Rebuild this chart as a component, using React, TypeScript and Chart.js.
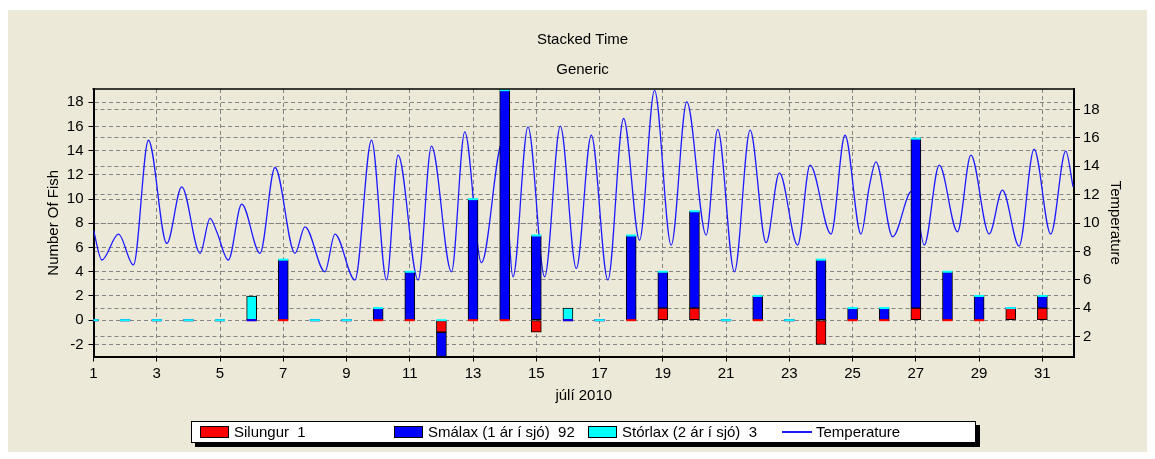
import React, { useEffect, useRef } from 'react';
import { Chart, registerables } from 'chart.js';

Chart.register(...registerables);

// ---------- data ----------
const days = [1, 2, 3, 4, 5, 6, 7, 8, 9, 10, 11, 12, 13, 14, 15, 16, 17, 18, 19, 20, 21, 22, 23, 24, 25, 26, 27, 28, 29, 30, 31];
const silungur = [0, 0, 0, 0, 0, 0, 0, 0, 0, 0, 0, -1, 0, 0, -1, 0, 0, 0, 1, 1, 0, 0, 0, -2, 0, 0, 1, 0, 0, 1, 1];
const smalax = [0, 0, 0, 0, 0, 0, 5, 0, 0, 1, 4, -2, 10, 19, 7, 0, 0, 7, 3, 8, 0, 2, 0, 5, 1, 1, 14, 4, 2, 0, 1];
const storlax = [0, 0, 0, 0, 0, 2, 0, 0, 0, 0, 0, 0, 0, 0, 0, 1, 0, 0, 0, 0, 0, 0, 0, 0, 0, 0, 0, 0, 0, 0, 0];

const tempTimes = [
  1.0, 1.265, 1.79, 2.263, 2.737, 3.318, 3.79, 4.37, 4.685, 4.897, 5.263, 5.686, 6.264, 6.738, 7.37, 7.685,
  8.317, 8.633, 9.265, 9.79, 10.265, 10.63, 11.263, 11.686, 12.318, 12.738, 13.265, 13.94, 14.263, 14.737,
  15.264, 15.76, 16.265, 16.739, 17.263, 17.759, 18.264, 18.738, 19.265, 19.758, 20.37, 20.736, 21.264,
  21.76, 22.265, 22.685, 23.263, 23.655, 24.318, 24.76, 25.265, 25.527, 25.738, 26.267, 26.79, 26.915,
  27.265, 27.74, 28.316, 28.74, 29.318, 29.737, 30.264, 30.737, 31.265, 31.739, 31.97,
];
const tempValues = [
  9.5, 7.4, 9.23, 7.05, 15.84, 8.57, 12.56, 7.87, 10.33, 9.39, 7.4, 11.34, 7.87, 13.92, 7.87, 9.74,
  6.57, 9.23, 5.99, 15.84, 5.99, 14.79, 5.99, 15.42, 6.57, 16.43, 7.21, 15.8, 6.22, 16.78,
  6.22, 16.83, 6.81, 16.19, 5.99, 17.37, 8.8, 19.36, 8.45, 18.54, 9.16, 16.6, 6.57,
  16.55, 8.62, 13.54, 8.45, 14.08, 9.23, 16.19, 9.23, 12.56, 14.31, 9.04, 12.09, 12.3,
  8.45, 14.08, 9.39, 14.79, 9.23, 12.32, 8.38, 15.21, 9.23, 15.07, 12.56,
];

const xTicks = [1, 3, 5, 7, 9, 11, 13, 15, 17, 19, 21, 23, 25, 27, 29, 31];
const leftTicks = [-2, 0, 2, 4, 6, 8, 10, 12, 14, 16, 18];
const rightTicks = [2, 4, 6, 8, 10, 12, 14, 16, 18];

const seriesNames = ['Silungur', 'Smálax (1 ár í sjó)', 'Stórlax (2 ár í sjó)', 'Temperature'];
const seriesTotals = [1, 92, 3];

// ---------- styles ----------
const FONT = '"Liberation Sans", Arial, Helvetica, sans-serif';
const RED = '#ff0000';
const BLUE = '#0000ff';
const CYAN = '#00ffff';
const LINE = '#1c1cff';
const GRID = '#858585';

const zeroMarks = {
  id: 'zeroMarks',
  afterDatasetsDraw(chart: any) {
    const ctx = chart.ctx;
    const yS = chart.scales.y;
    const sets = [silungur, smalax, storlax];
    const cols = [RED, BLUE, CYAN];
    const area = chart.chartArea;
    ctx.save();
    ctx.beginPath();
    ctx.rect(area.left, area.top, area.right - area.left, area.bottom - area.top);
    ctx.clip();
    for (let i = 0; i < sets.length; i++) {
      const meta = chart.getDatasetMeta(i);
      for (let j = 0; j < sets[i].length; j++) {
        if (sets[i][j] !== 0) continue;
        let base = 0;
        for (let k = 0; k < i; k++) if (sets[k][j] > 0) base += sets[k][j];
        const el = meta.data[j];
        if (!el) continue;
        const y = yS.getPixelForValue(base);
        ctx.fillStyle = cols[i];
        ctx.fillRect(el.x - el.width / 2, y - 1, el.width, 2);
      }
    }
    ctx.restore();
  },
};

const topFrame = {
  id: 'topFrame',
  afterDraw(chart: any) {
    const { left, right, top } = chart.chartArea;
    const ctx = chart.ctx;
    ctx.save();
    ctx.strokeStyle = '#000';
    ctx.lineWidth = 1.5;
    ctx.beginPath();
    ctx.moveTo(left - 1, top);
    ctx.lineTo(right + 1, top);
    ctx.stroke();
    ctx.restore();
  },
};

export default function App() {
  const ref = useRef<HTMLCanvasElement | null>(null);

  useEffect(() => {
    if (!ref.current) return;
    const font = { family: FONT, size: 15 };
    const barDs = (label: string, vals: number[], color: string) => ({
      type: 'bar' as const,
      label,
      data: days.map((d, i) => ({ x: d, y: vals[i] })),
      backgroundColor: color,
      borderColor: '#000',
      borderWidth: 1,
      borderSkipped: false,
      barThickness: 10,
      yAxisID: 'y',
      order: 0,
    });
    const chart = new Chart(ref.current, {
      type: 'bar',
      data: {
        datasets: [
          barDs(seriesNames[0], silungur, RED),
          barDs(seriesNames[1], smalax, BLUE),
          barDs(seriesNames[2], storlax, CYAN),
          {
            type: 'line' as const,
            label: seriesNames[3],
            data: tempTimes.map((t, i) => ({ x: t, y: tempValues[i] })),
            borderColor: LINE,
            borderWidth: 1.3,
            pointRadius: 0,
            fill: false,
            cubicInterpolationMode: 'monotone',
            yAxisID: 'y2',
            order: 10,
          } as any,
        ],
      },
      options: {
        responsive: false,
        animation: false,
        devicePixelRatio: 1,
        layout: { padding: { left: 10, right: 0, top: 31, bottom: 0 } },
        plugins: {
          legend: { display: false },
          tooltip: { enabled: false },
          title: {
            display: true,
            text: 'Stacked Time',
            color: '#000',
            font: { ...font, weight: 'normal' },
            padding: { top: 0, bottom: 12 },
          },
          subtitle: {
            display: true,
            text: 'Generic',
            color: '#000',
            font: { ...font, weight: 'normal' },
            padding: { top: 0, bottom: 10 },
          },
        },
        scales: {
          x: {
            type: 'linear',
            min: 1,
            max: 32,
            stacked: true,
            offset: false,
            afterBuildTicks: (s: any) => {
              s.ticks = xTicks.map((v) => ({ value: v }));
            },
            afterFit: (s: any) => {
              s.height = 102.5;
            },
            ticks: { color: '#000', font, padding: 3, autoSkip: false, maxRotation: 0, callback: (v: any) => String(v) },
            grid: { color: GRID, lineWidth: 1, tickColor: '#000', tickLength: 5, offset: false },
            border: { display: true, color: '#000', width: 2, dash: [4, 3] },
            title: { display: true, text: 'júlí 2010', color: '#000', font, padding: { top: 0, bottom: 54 } },
          },
          y: {
            type: 'linear',
            position: 'left',
            min: -3,
            max: 19.1,
            stacked: true,
            afterBuildTicks: (s: any) => {
              s.ticks = leftTicks.map((v) => ({ value: v }));
            },
            afterFit: (s: any) => {
              s.width = 83.5;
            },
            ticks: { color: '#000', font, padding: 5, callback: (v: any) => String(v) },
            grid: { color: GRID, lineWidth: 1, tickColor: '#000', tickLength: 5 },
            border: { display: true, color: '#000', width: 2, dash: [4, 3] },
            title: { display: true, text: 'Number Of Fish', color: '#000', font, padding: { top: 35, bottom: 0 } },
          },
          y2: {
            type: 'linear',
            position: 'right',
            min: 0.6,
            max: 19.45,
            stacked: false,
            afterBuildTicks: (s: any) => {
              s.ticks = rightTicks.map((v) => ({ value: v }));
            },
            afterFit: (s: any) => {
              s.width = 81;
            },
            ticks: { color: '#000', font, padding: 3, callback: (v: any) => String(v) },
            grid: { color: GRID, lineWidth: 1, tickColor: '#000', tickLength: 6, drawOnChartArea: true },
            border: { display: true, color: '#000', width: 2, dash: [4, 3] },
            title: { display: true, text: 'Temperature', color: '#000', font, padding: { top: 31, bottom: 0 } },
          },
        },
      } as any,
      plugins: [zeroMarks, topFrame],
    });
    return () => chart.destroy();
  }, []);

  const legendItems = [
    { text: `${seriesNames[0]}  ${seriesTotals[0]}`, color: RED, kind: 'box' },
    { text: `${seriesNames[1]}  ${seriesTotals[1]}`, color: BLUE, kind: 'box' },
    { text: `${seriesNames[2]}  ${seriesTotals[2]}`, color: CYAN, kind: 'box' },
    { text: seriesNames[3], color: LINE, kind: 'line' },
  ];

  return (
    <div style={{ position: 'fixed', left: 0, top: 0, width: 1155, height: 459, background: '#ffffff', overflow: 'hidden' }}>
      <div style={{ position: 'absolute', left: 8, top: 10, width: 1139, height: 442, background: '#ece9d8' }} />
      <canvas ref={ref} width={1155} height={459} style={{ position: 'absolute', left: 0, top: 0, width: 1155, height: 459 }} />
      <div
        style={{
          position: 'absolute',
          left: 191,
          top: 421,
          width: 785,
          height: 22,
          boxSizing: 'border-box',
          border: '1px solid #000',
          background: '#fff',
          boxShadow: '4px 4px 0 #000',
          fontFamily: FONT,
          fontSize: 15,
          color: '#000',
        }}
      >
        {legendItems.map((it, i) => (
          <div key={i} style={{ position: 'absolute', left: 8 + i * 194, top: 0, height: 20, width: 190 }}>
            {it.kind === 'box' ? (
              <div
                style={{
                  position: 'absolute',
                  left: 0,
                  top: 4,
                  width: 29,
                  height: 12,
                  boxSizing: 'border-box',
                  border: '1px solid #000',
                  background: it.color,
                }}
              />
            ) : (
              <div style={{ position: 'absolute', left: 0, top: 9, width: 30, height: 2, background: it.color }} />
            )}
            <div style={{ position: 'absolute', left: 34, top: 0, lineHeight: '20px', whiteSpace: 'pre' }}>{it.text}</div>
          </div>
        ))}
      </div>
    </div>
  );
}
